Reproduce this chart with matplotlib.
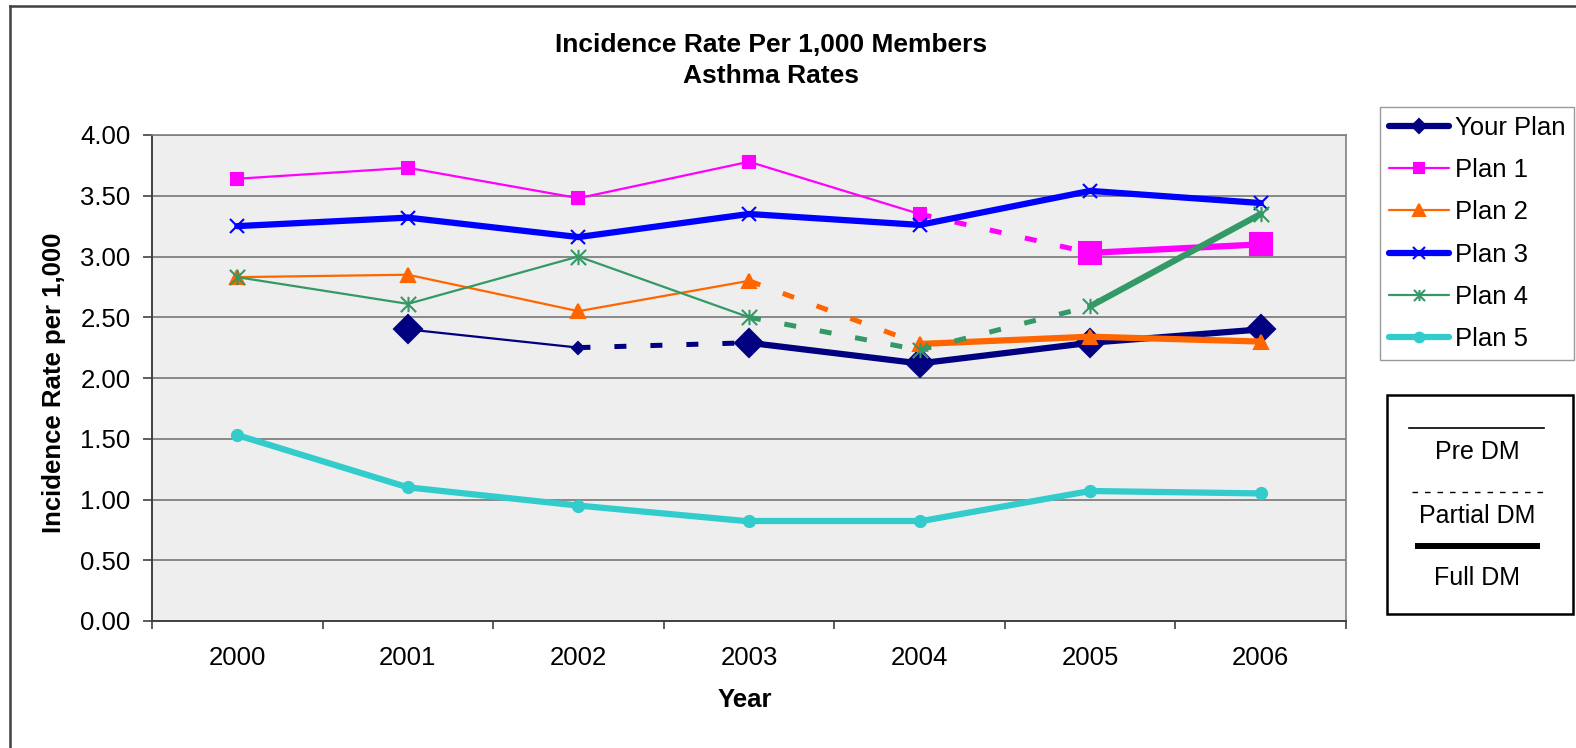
import numpy as np
import matplotlib
matplotlib.use('Agg')
import matplotlib.pyplot as plt
from matplotlib.lines import Line2D
from matplotlib.patches import Rectangle
from matplotlib.path import Path

plt.rcParams['font.family'] = ['Liberation Sans', 'DejaVu Sans']

# Data
years = ['2000', '2001', '2002', '2003', '2004', '2005', '2006']
your_plan = [np.nan, 2.40, 2.25, 2.29, 2.12, 2.29, 2.40]
plan1 = [3.64, 3.73, 3.48, 3.78, 3.35, 3.03, 3.10]
plan2 = [2.83, 2.85, 2.55, 2.80, 2.28, 2.34, 2.30]
plan3 = [3.25, 3.32, 3.16, 3.35, 3.26, 3.54, 3.44]
plan4 = [2.83, 2.61, 3.00, 2.50, 2.23, 2.59, 3.35]
plan5 = [1.53, 1.10, 0.95, 0.82, 0.82, 1.07, 1.05]

# DM phase of each segment between consecutive years
your_plan_phase = ['', 'pre', 'partial', 'full', 'full', 'full']
plan1_phase = ['pre', 'pre', 'pre', 'pre', 'partial', 'full']
plan2_phase = ['pre', 'pre', 'pre', 'partial', 'full', 'full']
plan3_phase = ['full'] * 6
plan4_phase = ['pre', 'pre', 'pre', 'partial', 'partial', 'full']
plan5_phase = ['full'] * 6

W, H = 1576, 748
def fx(px):
    return px / W
def fy(py):
    return 1 - py / H

star = Path([(0, -1), (0, 1), (-1, -1), (1, 1), (-1, 1), (1, -1)],
            [Path.MOVETO, Path.LINETO, Path.MOVETO, Path.LINETO, Path.MOVETO, Path.LINETO])

# name, values, phases, color, marker, small size, big size, indices with big marker
series = [
    ('Your Plan', your_plan, your_plan_phase, '#000080', 'D', 6, 14.5, [1, 3, 4, 5, 6]),
    ('Plan 1', plan1, plan1_phase, '#FF00FF', 's', 8, 16, [5, 6]),
    ('Plan 2', plan2, plan2_phase, '#FF6600', '^', 10, 10, []),
    ('Plan 3', plan3, plan3_phase, '#0000FF', 'x', 10, 10, []),
    ('Plan 4', plan4, plan4_phase, '#339966', star, 11, 11, []),
    ('Plan 5', plan5, plan5_phase, '#33CCCC', 'o', 8, 8, []),
]

phase_style = {
    'pre': dict(lw=1.6, ls='-'),
    'partial': dict(lw=3.6, ls=(0, (2.4, 4.8))),
    'full': dict(lw=4.5, ls='-'),
}

fig = plt.figure(figsize=(W / 100, H / 100), dpi=100)
ax = fig.add_axes([fx(152), fy(621), fx(1346) - fx(152), fy(135) - fy(621)])
ax.set_facecolor('#EEEEEE')

x = np.arange(len(years))
for k, (name, vals, phases, color, marker, ms_small, ms_big, big_idx) in enumerate(series):
    z = 3 + k
    for i, ph in enumerate(phases):
        if not ph:
            continue
        st = phase_style[ph]
        ax.plot(x[i:i + 2], vals[i:i + 2], color=color, lw=st['lw'], ls=st['ls'],
                dash_capstyle='butt', solid_capstyle='round', zorder=z)
    for i, v in enumerate(vals):
        if np.isnan(v):
            continue
        ms = ms_big if i in big_idx else ms_small
        filled = marker not in ('x',) and not isinstance(marker, Path)
        ax.plot(x[i], v, marker=marker, ms=ms, color=color, ls='none',
                mfc=color if filled else 'none', mec=color, mew=1.5, zorder=z + 0.5)

ax.set_xlim(-0.5, 6.5)
ax.set_ylim(0, 4)
ax.set_yticks(np.arange(0, 4.01, 0.5))
ax.set_yticklabels(['%.2f' % v for v in np.arange(0, 4.01, 0.5)])
ax.set_xticks(x)
ax.set_xticklabels(years)
ax.set_xticks(np.arange(-0.5, 6.6, 1), minor=True)
ax.tick_params(axis='x', which='major', length=0, pad=18, labelsize=18.5)
ax.tick_params(axis='x', which='minor', length=6, width=1.2, color='#404040')
ax.tick_params(axis='y', length=6.5, width=1.2, color='#404040', pad=9, labelsize=18.5)
ax.yaxis.grid(True, color='#808080', lw=1.3)
ax.set_axisbelow(True)
for s in ['left', 'bottom']:
    ax.spines[s].set_color('#404040')
    ax.spines[s].set_linewidth(1.4)
for s in ['top', 'right']:
    ax.spines[s].set_color('#808080')
    ax.spines[s].set_linewidth(1.2)

# titles and axis labels
fig.text(fx(771), fy(45), 'Incidence Rate Per 1,000 Members', ha='center', va='center',
         fontsize=19, fontweight='bold')
fig.text(fx(771), fy(76), 'Asthma Rates', ha='center', va='center',
         fontsize=19, fontweight='bold')
fig.text(fx(54), fy(383), 'Incidence Rate per 1,000', rotation=90, ha='center', va='center',
         fontsize=18.5, fontweight='bold')
fig.text(fx(745), fy(700), 'Year', ha='center', va='center', fontsize=18.5, fontweight='bold')

# outer chart frame (left and top edges visible)
fig.add_artist(Line2D([fx(10), fx(10)], [fy(6), 0], color='#404040', lw=1.8))
fig.add_artist(Line2D([fx(10), 1], [fy(6), fy(6)], color='#404040', lw=1.8))

# series legend
handles = []
legend_styles = [(4.5, 7.5), (1.6, 7), (1.6, 8), (4.5, 8), (1.6, 8), (4.5, 7)]
for (name, vals, phases, color, marker, *_), (lw, ms) in zip(series, legend_styles):
    filled = marker not in ('x',) and not isinstance(marker, Path)
    handles.append(Line2D([], [], color=color, lw=lw, marker=marker, ms=ms,
                          mfc=color if filled else 'none', mec=color, mew=1.5,
                          solid_capstyle='round'))
leg = fig.legend(handles, [s[0] for s in series], loc='upper left',
                 bbox_to_anchor=(fx(1380), fy(107)), bbox_transform=fig.transFigure,
                 fontsize=18.5, frameon=True, fancybox=False, borderaxespad=0,
                 borderpad=0.35, labelspacing=0.71, handlelength=2.35, handletextpad=0.2)
leg.get_frame().set_edgecolor('#808080')
leg.get_frame().set_linewidth(1.0)

# DM phase key
fig.add_artist(Rectangle((fx(1387), fy(614)), fx(1573) - fx(1387), fy(395) - fy(614),
                         transform=fig.transFigure, fill=False, edgecolor='black', lw=1.8))
fig.add_artist(Line2D([fx(1409), fx(1544)], [fy(428), fy(428)], color='black', lw=1.2))
fig.text(fx(1477), fy(452), 'Pre DM', ha='center', va='center', fontsize=18)
fig.add_artist(Line2D([fx(1412), fx(1546)], [fy(492), fy(492)], color='black', lw=1.0,
                      ls=(0, (4, 5))))
fig.text(fx(1477), fy(516), 'Partial DM', ha='center', va='center', fontsize=18)
fig.add_artist(Line2D([fx(1415), fx(1540)], [fy(546), fy(546)], color='black', lw=4.3,
                      solid_capstyle='butt'))
fig.text(fx(1477), fy(578), 'Full DM', ha='center', va='center', fontsize=18)

fig.savefig('out.png', dpi=100)
